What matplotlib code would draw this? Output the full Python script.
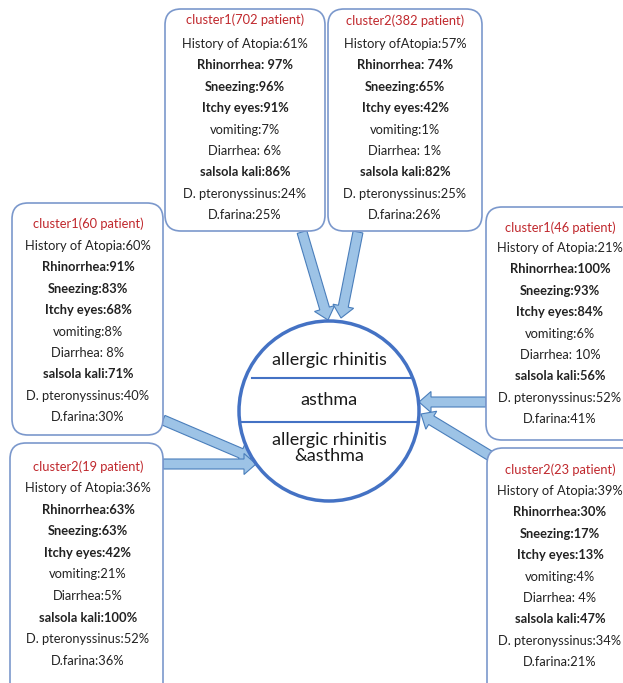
"""
plot.py - cluster summary diagram around the allergic rhinitis / asthma circle.
"""
import matplotlib
matplotlib.use("Agg")
import matplotlib.pyplot as plt
from matplotlib.patches import FancyBboxPatch, Circle, FancyArrow

plt.rcParams["font.family"] = ["Lato", "DejaVu Sans"]

# ---- data -------------------------------------------------------------
TITLES = ["cluster1(702 patient)", "cluster2(382 patient)",
          "cluster1(60 patient)", "cluster2(19 patient)",
          "cluster1(46 patient)", "cluster2(23 patient)"]

LABELS = ["History of Atopia:", "Rhinorrhea:", "Sneezing:", "Itchy eyes:",
          "vomiting:", "Diarrhea: ", "salsola kali:", "D. pteronyssinus:",
          "D.farina:"]
BOLD = [False, True, True, True, False, False, True, False, False]

pct_702 = [61, 97, 96, 91, 7, 6, 86, 24, 25]
pct_382 = [57, 74, 65, 42, 1, 1, 82, 25, 26]
pct_60 = [60, 91, 83, 68, 8, 8, 71, 40, 30]
pct_19 = [36, 63, 63, 42, 21, 5, 100, 52, 36]
pct_46 = [21, 100, 93, 84, 6, 10, 56, 52, 41]
pct_23 = [39, 30, 17, 13, 4, 4, 47, 34, 21]

# small spelling quirks of the original boxes
labels_702 = LABELS[:1] + ["Rhinorrhea: "] + LABELS[2:]
labels_382 = ["History ofAtopia:", "Rhinorrhea: "] + LABELS[2:]
labels_19 = LABELS[:5] + ["Diarrhea:"] + LABELS[6:]

CIRCLE_TEXT = ["allergic rhinitis", "asthma", "allergic rhinitis\n&asthma"]

# ---- layout (pixel space, y down) --------------------------------------
W, H = 623, 683
BLUE = "#4472c4"
BOX_EDGE = "#7b98cc"
ARROW_FACE = "#9dc3e6"
ARROW_EDGE = "#4a7ebb"
RED = "#c0282d"
FS = 9.3

# (x0, y0, x1, y1, text centre x, title y, first line y, line step)
boxes = [
    (pct_702, labels_702, TITLES[0], (165, 9, 325, 231), 245, 20, 44, 21.4),
    (pct_382, labels_382, TITLES[1], (328, 9, 482, 231), 405, 21, 44, 21.4),
    (pct_60, LABELS, TITLES[2], (12, 203, 163, 435), 88, 224, 246, 21.4),
    (pct_19, labels_19, TITLES[3], (10, 443, 163, 700), 88, 467, 488, 21.6),
    (pct_46, LABELS, TITLES[4], (486, 207, 650, 440), 560, 228, 248, 21.4),
    (pct_23, LABELS, TITLES[5], (487, 448, 650, 700), 560, 470, 491, 21.4),
]

fig = plt.figure(figsize=(W / 100, H / 100), dpi=100)
ax = fig.add_axes([0, 0, 1, 1])
ax.set_xlim(0, W); ax.set_ylim(H, 0); ax.axis("off")

for vals, labs, title, (x0, y0, x1, y1), cx, ty, ly, step in boxes:
    ax.add_patch(FancyBboxPatch((x0 + 12, y0 + 12), x1 - x0 - 24, y1 - y0 - 24,
                                boxstyle="round,pad=12,rounding_size=16",
                                fc="white", ec=BOX_EDGE, lw=1.2, zorder=2))
    ax.text(cx, ty, title, color=RED, fontsize=FS, ha="center", va="center",
            zorder=3)
    for i, (lab, v, b) in enumerate(zip(labs, vals, BOLD)):
        ax.text(cx, ly + i * step, f"{lab}{v}%", fontsize=FS,
                fontweight="bold" if b else "normal", color="#222222",
                ha="center", va="center", zorder=3)

# arrows: (start x, start y, end x, end y)
arrows = [(302, 232, 328, 320), (358, 232, 341, 318),
          (163, 420, 252, 458), (163, 464, 256, 464),
          (486, 402, 419, 402), (497, 460, 421, 414)]
for sx, sy, ex, ey in arrows:
    ax.add_patch(FancyArrow(sx, sy, ex - sx, ey - sy, width=10, head_width=21,
                            head_length=12, length_includes_head=True,
                            fc=ARROW_FACE, ec=ARROW_EDGE, lw=0.8, zorder=1))

# centre circle
ccx, ccy, r = 329, 411, 90
ax.add_patch(Circle((ccx, ccy), r, fc="white", ec=BLUE, lw=2.5, zorder=4))
ax.plot([252, 410], [378, 378], color=BLUE, lw=1.5, zorder=5)
ax.plot([241, 416], [422, 422], color=BLUE, lw=1.5, zorder=5)
for t, y in zip(CIRCLE_TEXT, [360, 400, 448]):
    ax.text(ccx, y, t, fontsize=13, ha="center", va="center", color="#1a1a1a",
            linespacing=1.0, zorder=6)

fig.savefig("out.png", dpi=100, facecolor="white")
